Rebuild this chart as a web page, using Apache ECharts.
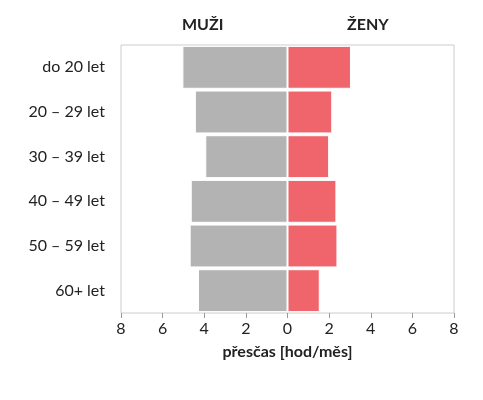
<!DOCTYPE html>
<html><head><meta charset="utf-8">
<script src="https://cdn.jsdelivr.net/npm/echarts@6/dist/echarts.min.js"></script>
<style>html,body{margin:0;padding:0;background:#fff}#c{width:483px;height:400px}</style>
</head><body><div id="c"></div>
<script>
// věkové skupiny shora dolů
const categories = ['do 20 let', '20 – 29 let', '30 – 39 let', '40 – 49 let', '50 – 59 let', '60+ let']
const muzi = [5.05, 4.45, 3.95, 4.65, 4.7, 4.3]
const zeny = [3.05, 2.15, 2.0, 2.35, 2.4, 1.55]
const ticks = [-8, -6, -4, -2, 0, 2, 4, 6, 8]

const font = 'Lato, "DejaVu Sans", sans-serif'
const chart = echarts.init(document.getElementById('c'))
chart.setOption({
    animation: false,
    grid: { left: 121, right: 29, top: 45, bottom: 87, show: true, borderColor: '#cccccc', borderWidth: 1 },
    graphic: [
        { type: 'text', left: 182, top: 17, style: { text: 'MUŽI', font: 'bold 16px ' + font, fill: '#222' } },
        { type: 'text', left: 347, top: 17, style: { text: 'ŽENY', font: 'bold 16px ' + font, fill: '#222' } }
    ],
    xAxis: {
        type: 'value', min: ticks[0], max: ticks[ticks.length - 1], interval: 2,
        splitLine: { show: false },
        axisLine: { show: false },
        axisTick: { show: true, lineStyle: { color: '#999' }, length: 5 },
        axisLabel: { fontSize: 16, color: '#222', fontFamily: font, formatter: v => Math.abs(v) },
        name: 'přesčas [hod/měs]', nameLocation: 'middle', nameGap: 31,
        nameTextStyle: { fontSize: 16, fontWeight: 'bold', color: '#222', fontFamily: font }
    },
    yAxis: {
        type: 'category', data: categories, inverse: true,
        axisLine: { show: false }, axisTick: { show: false },
        axisLabel: { fontSize: 16, color: '#222', fontFamily: font, margin: 16 }
    },
    series: [
        { type: 'bar', stack: 'a', data: muzi.map(v => -v), barCategoryGap: '4%',
          itemStyle: { color: '#b3b3b3', borderColor: '#fff', borderWidth: 1 } },
        { type: 'bar', stack: 'a', data: zeny,
          itemStyle: { color: '#f0646c', borderColor: '#fff', borderWidth: 1 } }
    ]
})
</script></body></html>
